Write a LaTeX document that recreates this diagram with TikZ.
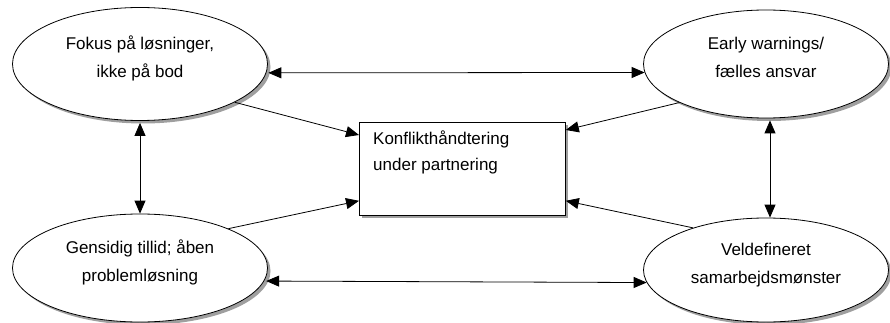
\documentclass[tikz,border=0pt]{standalone}
\usepackage{fontspec}
\setmainfont{Liberation Sans}
\usepackage{tikz}
\usetikzlibrary{shapes,arrows.meta,positioning,shadows}
\tikzstyle{line} = [draw, line width=0.8pt]
\tikzstyle{goal} = [ellipse, draw, line width=0.8pt, fill=white, minimum width=250pt, minimum height=108pt, inner sep=0pt, align=center, text depth=14pt, font=\fontsize{17}{28}\selectfont, drop shadow={shadow xshift=3pt, shadow yshift=-3pt, fill=gray!75, opacity=1}]
\tikzstyle{box} = [rectangle, draw, line width=0.8pt, fill=white, minimum width=206pt, minimum height=93pt, anchor=north west, drop shadow={shadow xshift=3pt, shadow yshift=-3pt, fill=gray!75, opacity=1}]
\tikzset{>={Triangle[length=13pt,width=11pt]}}

\begin{document}
\begin{tikzpicture}[x=1pt,y=-1pt]
      \useasboundingbox (0,0) rectangle (890,323);
      \node [goal, minimum width=255pt, minimum height=113pt] (fokus) at (140,64) {Fokus på løsninger,\\ikke på bod};
      \node [goal, minimum width=245pt] (early) at (766,64) {Early warnings/\\fælles ansvar};
      \node [goal, minimum width=255pt] (gensidig) at (140,268) {Gensidig tillid; åben\\problemløsning};
      \node [goal, minimum width=245pt, minimum height=104pt] (veldef) at (766,270) {Veldefineret\\samarbejdsmønster};
      \node [box] (konflikt) at (359,122) {};
      \node [anchor=north west, align=left, inner sep=0pt, font=\fontsize{17}{26}\selectfont] (konflikttekst) at ([xshift=14pt,yshift=-9pt]konflikt.north west) {Konflikthåndtering\\under partnering};
      \path [line,<->] ([xshift=2pt]fokus.-4) -- (early.184);
      \path [line,<->] ([xshift=2pt]gensidig.-6) -- (veldef.186);
      \path [line,<->] ([yshift=-2pt]fokus.south) -- (gensidig.north);
      \path [line,<->] ([xshift=4pt,yshift=-2pt]early.south) -- ([xshift=4pt]veldef.north);
      \path [line,->] (fokus.-22) -- ([yshift=-13pt]konflikt.north west);
      \path [line,->] (early.-156) -- ([yshift=-8pt]konflikt.north east);
      \path [line,->] (gensidig.24) -- ([yshift=15pt]konflikt.south west);
      \path [line,->] (veldef.150) -- ([yshift=15pt]konflikt.south east);
\end{tikzpicture}
\end{document}
